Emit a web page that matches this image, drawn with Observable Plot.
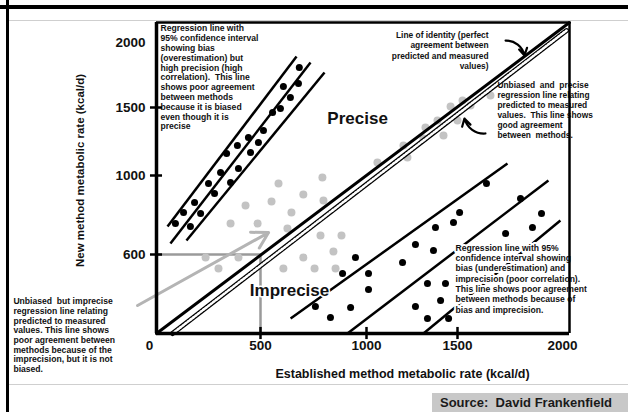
<!DOCTYPE html>
<html><head><meta charset="utf-8">
<script src="https://cdn.jsdelivr.net/npm/d3@7"></script>
<script src="https://cdn.jsdelivr.net/npm/@observablehq/plot@0.6"></script>
<style>
html,body{margin:0;padding:0;background:#fff;}
#page{position:relative;width:628px;height:412px;overflow:hidden;font-family:"Liberation Sans",Arial,sans-serif;}
#chart{position:absolute;left:0;top:0;}
.lb{position:absolute;left:6px;top:0;width:3px;height:412px;background:#000;}
.tb{position:absolute;left:0;top:5px;width:628px;height:4px;background:#000;}
.tg{position:absolute;left:9px;top:20px;width:619px;height:1px;background:#cfcfcf;}
.bg{position:absolute;left:9px;top:384px;width:619px;height:1px;background:#cfcfcf;}
.src{position:absolute;left:432px;top:393px;width:196px;height:19px;background:#c8c8c8;font:bold 13px "Liberation Sans",Arial,sans-serif;color:#1a1a1a;line-height:19px;padding-left:8px;box-sizing:border-box;white-space:pre;}
</style></head>
<body><div id="page"><div id="chart"></div><div class="lb"></div><div class="tb"></div><div class="tg"></div><div class="bg"></div><div class="src">Source:  David Frankenfield</div></div>
<script>
// ---- data (kcal/d) ----
const xTicks = [0, 500, 1000, 1500, 2000];
const yTicks = [600, 1000, 1500, 2000];
const xCrossTicks = [500, 1000, 1500];
const yCrossTicks = [600, 1000, 1500];
const xTitle = "Established method metabolic rate (kcal/d)";
const yTitle = "New method metabolic rate (kcal/d)";
// biased but precise group (black dots, upper left)
const upperDots = [[91,757],[130,813],[163,742],[183,863],[212,808],[250,959],[279,909],[308,1022],[356,965],[337,1162],[389,1221],[394,1051],[442,1279],[490,1243],[514,1331],[557,1463],[594,1493],[608,1662],[641,1577],[679,1685],[683,1808],[452,1169]];
const upperLines = [[53,742,670,1892],[67,656,736,1846],[144,671,802,1769]];
// biased and imprecise group (black dots, lower right)
const lowerDots = [[948,577],[887,456],[1011,456],[1011,334],[759,205],[925,197],[830,122],[1379,737],[1478,762],[1269,651],[1368,620],[1198,539],[1857,737],[1729,706],[1335,380],[1434,380],[1407,251],[1269,205],[1335,114],[1451,114],[1638,959],[1510,813],[1900,808],[1800,884]];
const lowerLines = [[642,114,1738,1088],[910,0,1933,975],[1313,0,1990,772]];
// unbiased groups (grey dots)
const grayDots = [[585,959],[792,990],[428,848],[552,868],[702,904],[797,873],[646,813],[356,757],[486,757],[627,732],[783,696],[882,696],[844,615],[702,577],[236,577],[394,577],[298,494],[608,494],[755,494],[854,494],[1060,1096],[1203,1221],[1225,1132],[1313,1272],[1324,1353],[1390,1404],[1423,1294],[1462,1508],[1500,1404],[1524,1554],[1562,1515],[1657,1592]];
const precisePath = [[77,0],[2020,2092]];
const guidePoint = [500, 600];
const grayArrow = [-91,213,538,711];
const curvedArrows = [[1729,2015,1819,1900],[1633,1309,1533,1419]];
const notes = [
  {x:19, y:2139, text:"Regression line with\n95% confidence interval\nshowing bias\n(overestimation) but\nhigh precision (high\ncorrelation).  This line\nshows poor agreement\nbetween methods\nbecause it is biased\neven though it is\nprecise", anchor:"start", size:8.6, lh:1.14},
  {x:1648, y:2092, text:"Line of identity (perfect\nagreement between\npredicted and measured\nvalues)", anchor:"end", size:8.4, lh:1.24},
  {x:1690, y:1708, text:"Unbiased  and  precise\nregression line relating\npredicted to measured\nvalues.  This line shows\ngood agreement\nbetween  methods.", anchor:"start", size:8.4, lh:1.2},
  {x:1489, y:656, text:"Regression line with 95%\nconfidence interval showing\nbias (underestimation) and\nimprecision (poor correlation).\nThis line shows poor agreement\nbetween methods because of\nbias and imprecision.", anchor:"start", size:8.6, lh:1.2},
  {x:-688, y:273, text:"Unbiased  but imprecise\nregression line relating\npredicted to measured\nvalues. This line shows\npoor agreement between\nmethods because of the\nimprecision, but it is not\nbiased.", anchor:"start", size:8.6, lh:1.12}
];
const bigLabels = [{x:958, y:1419, text:"Precise"},{x:637, y:327, text:"Imprecise"}];
const titlePos = {x:[1198,-304], y:[-365,1037]};

// ---- layout ----
const X_DOMAIN = [0, 500, 1000, 1500, 2000, 2035], X_RANGE = [156, 260, 366, 457, 562, 569];
const Y_DOMAIN = [0, 600, 1000, 1500, 2000, 2154], Y_RANGE = [333, 254, 175, 107, 42, 22];
const FONT = '"Liberation Sans", Arial, sans-serif';

const segs = (arr) => arr.map(([x1,y1,x2,y2]) => ({x1,y1,x2,y2}));
const pts = (arr) => arr.map(([x,y]) => ({x,y}));
const xEnd = X_DOMAIN[X_DOMAIN.length-1], yEnd = Y_DOMAIN[Y_DOMAIN.length-1];

const noteMarks = notes.map(n => Plot.text([n], {x:"x", y:"y", text:"text", textAnchor:n.anchor, lineAnchor:"top", lineHeight:n.lh, fontSize:n.size, fontWeight:"bold", fill:"#111", stroke: n.x > 1400 && n.y < 1000 ? "white" : null, strokeWidth:4}));
const fmt = d => String(d);

const chart = Plot.plot({
  width: 628, height: 385,
  marginLeft: 156, marginRight: 59, marginTop: 22, marginBottom: 52,
  style: {fontFamily: FONT, background: "transparent", color: "#111"},
  x: {type:"linear", domain: X_DOMAIN, range: X_RANGE},
  y: {type:"linear", domain: Y_DOMAIN, range: Y_RANGE},
  marks: [
    // grey guide to (500,600)
    Plot.line([{x:0,y:guidePoint[1]},{x:guidePoint[0],y:guidePoint[1]},{x:guidePoint[0],y:0}], {x:"x", y:"y", stroke:"#9a9a9a", strokeWidth:2.5}),
    Plot.dot(pts(grayDots), {x:"x", y:"y", r:4, fill:"#c3c3c3"}),
    // line of identity
    Plot.line([{x:0,y:0},{x:xEnd,y:yEnd}], {x:"x", y:"y", stroke:"#000", strokeWidth:3}),
    // unbiased precise regression line (hatched)
    Plot.line(pts(precisePath), {x:"x", y:"y", stroke:"#000", strokeWidth:5}),
    Plot.line(pts(precisePath), {x:"x", y:"y", stroke:"#fff", strokeWidth:2.6, strokeDasharray:"1.6,1.6"}),
    // upper group
    Plot.link(segs(upperLines), {x1:"x1", y1:"y1", x2:"x2", y2:"y2", stroke:"#000", strokeWidth:2.5}),
    Plot.dot(pts(upperDots), {x:"x", y:"y", r:3.5, fill:"#000"}),
    // lower group
    Plot.link(segs(lowerLines), {x1:"x1", y1:"y1", x2:"x2", y2:"y2", stroke:"#000", strokeWidth:2.5}),
    Plot.dot(pts(lowerDots), {x:"x", y:"y", r:3.5, fill:"#000"}),
    // arrows
    Plot.arrow(segs([grayArrow]), {x1:"x1", y1:"y1", x2:"x2", y2:"y2", stroke:"#b4b4b4", strokeWidth:3, headLength:9}),
    Plot.arrow(segs(curvedArrows), {x1:"x1", y1:"y1", x2:"x2", y2:"y2", stroke:"#000", strokeWidth:2.2, bend:40, headLength:7}),
    // texts
    ...noteMarks,
    Plot.text(bigLabels, {x:"x", y:"y", text:"text", fontSize:17, fontWeight:"bold", fill:"#111", stroke:"white", strokeWidth:3}),
    Plot.text([{x:titlePos.x[0], y:titlePos.x[1], t:xTitle}], {x:"x", y:"y", text:"t", fontSize:12.5, fontWeight:"bold", fill:"#111"}),
    Plot.text([{x:titlePos.y[0], y:titlePos.y[1], t:yTitle}], {x:"x", y:"y", text:"t", fontSize:11.5, fontWeight:"bold", fill:"#111", rotate:-90}),
    // frame
    Plot.ruleX([xEnd], {stroke:"#000", strokeWidth:2.5}),
    Plot.ruleY([yEnd], {stroke:"#000", strokeWidth:2.5}),
    Plot.ruleX([0], {stroke:"#000", strokeWidth:3.5}),
    Plot.ruleY([0], {stroke:"#000", strokeWidth:3.5}),
    // cross ticks
    Plot.ruleY(yCrossTicks, {x1:-29, x2:29, stroke:"#000", strokeWidth:2.5}),
    Plot.ruleX(xCrossTicks, {y1:46, y2:-46, stroke:"#000", strokeWidth:2.5}),
    // axes labels
    Plot.axisY(yTicks, {tickSize:0, tickPadding:11, fontSize:13.5, fontWeight:"bold", label:null, tickFormat:fmt}),
    Plot.axisX(xTicks.slice(1), {tickSize:0, tickPadding:7, fontSize:13.5, fontWeight:"bold", label:null, tickFormat:fmt}),
    Plot.axisX(xTicks.slice(0,1), {tickSize:0, tickPadding:7, fontSize:13.5, fontWeight:"bold", label:null, dx:-7, tickFormat:fmt})
  ]
});
document.getElementById("chart").appendChild(chart);
</script>
</body></html>
